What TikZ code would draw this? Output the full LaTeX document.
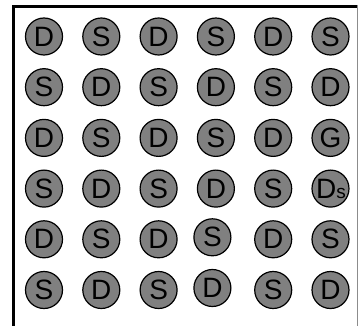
\documentclass[tikz,border=0pt]{standalone}
\usepackage{fontspec}
\setmainfont{Liberation Sans}
\begin{document}
\begin{tikzpicture}[x=1pt,y=-1pt,
  pin/.style={circle,draw=black,line width=1.2pt,fill={rgb,255:red,128;green,128;blue,128},
    minimum size=37pt,inner sep=0pt,font=\fontsize{28}{28}\selectfont},
  frame/.style={line width=3pt,black},
  edge/.style={line width=1.2pt,black!45}]
\useasboundingbox (0,0) rectangle (359,326);
\draw[frame] (13.5,326) -- (13.5,6.5) -- (357,6.5);
\draw[edge] (357.5,5) -- (357.5,326);
% row 1
\node[pin] (n11) at (44,36.5) {D};
\node[pin] (n12) at (101.3,36.5) {S};
\node[pin] (n13) at (158.6,36.5) {D};
\node[pin] (n14) at (215.9,36.5) {S};
\node[pin] (n15) at (273.2,36.5) {D};
\node[pin] (n16) at (330.5,36.5) {S};
% row 2
\node[pin] (n21) at (44,87.2) {S};
\node[pin] (n22) at (101.3,87.2) {D};
\node[pin] (n23) at (158.6,87.2) {S};
\node[pin] (n24) at (215.9,87.2) {D};
\node[pin] (n25) at (273.2,87.2) {S};
\node[pin] (n26) at (330.5,87.2) {D};
% row 3
\node[pin] (n31) at (44,137.9) {D};
\node[pin] (n32) at (101.3,137.9) {S};
\node[pin] (n33) at (158.6,137.9) {D};
\node[pin] (n34) at (215.9,137.9) {S};
\node[pin] (n35) at (273.2,137.9) {D};
\node[pin] (n36) at (330.5,137.9) {G};
% row 4
\node[pin] (n41) at (44,188.6) {S};
\node[pin] (n42) at (101.3,188.6) {D};
\node[pin] (n43) at (158.6,188.6) {S};
\node[pin] (n44) at (215.9,188.6) {D};
\node[pin] (n45) at (273.2,188.6) {S};
\node[pin] (n46) at (330.5,188.6) {\hspace*{1pt}D{\fontsize{19}{19}\selectfont s}};
% row 5
\node[pin] (n51) at (44,239.3) {D};
\node[pin] (n52) at (101.3,239.3) {S};
\node[pin] (n53) at (158.6,239.3) {D};
\node[pin] (n54) at (212.4,237.3) {S};
\node[pin] (n55) at (273.2,239.3) {D};
\node[pin] (n56) at (330.5,239.3) {S};
% row 6
\node[pin] (n61) at (44,290) {S};
\node[pin] (n62) at (101.3,290) {D};
\node[pin] (n63) at (158.6,290) {S};
\node[pin] (n64) at (212.4,288) {D};
\node[pin] (n65) at (273.2,290) {S};
\node[pin] (n66) at (330.5,290) {D};
\end{tikzpicture}
\end{document}
